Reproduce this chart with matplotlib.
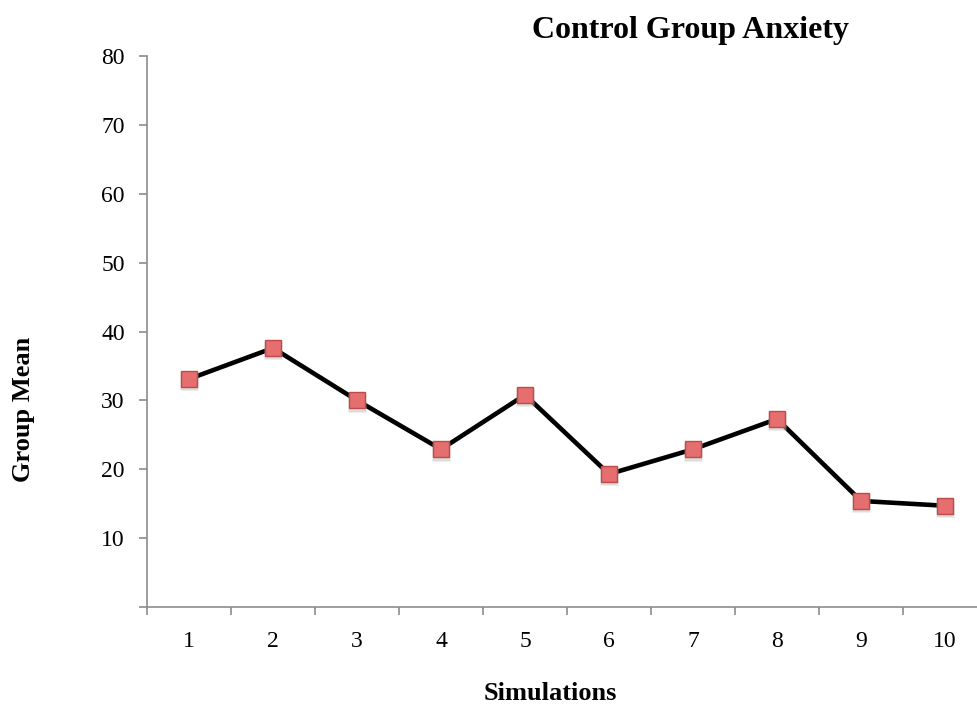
import matplotlib.pyplot as plt
from matplotlib.ticker import FixedLocator, NullFormatter

# data
simulations = [1, 2, 3, 4, 5, 6, 7, 8, 9, 10]
group_mean = [33.1, 37.6, 30.0, 22.9, 30.8, 19.3, 22.9, 27.3, 15.4, 14.7]
y_ticks = [10, 20, 30, 40, 50, 60, 70, 80]

fig = plt.figure(figsize=(9.78, 7.06), dpi=100)
ax = fig.add_axes([0.1503, 0.1402, 0.859, 0.7805])

ax.plot(simulations, group_mean, color='black', lw=3.3, zorder=2)
# faint shadow under the markers
ax.plot(simulations, [v - 0.35 for v in group_mean], ls='none', marker='s', ms=12.5,
        mfc='#bbbbbb', mec='none', alpha=0.5, zorder=2.5)
ax.plot(simulations, group_mean, ls='none', marker='s', ms=12,
        mfc='#e56f6f', mec='#bf4a4a', mew=1, zorder=3)

ax.set_xlim(0.5, 10.5)
ax.set_ylim(0, 80)

grey = '#8c8c8c'
for side in ['top', 'right']:
  ax.spines[side].set_visible(False)
for side in ['left', 'bottom']:
  ax.spines[side].set_color(grey)
  ax.spines[side].set_linewidth(1.2)

ax.set_yticks([0] + y_ticks)
ax.set_yticklabels([''] + [str(t) for t in y_ticks])
ax.set_xticks(simulations)
ax.set_xticklabels([str(s) for s in simulations])
ax.xaxis.set_minor_locator(FixedLocator([x + 0.5 for x in range(0, 11)]))
ax.xaxis.set_minor_formatter(NullFormatter())
ax.tick_params(axis='x', which='major', length=0, pad=17)
ax.tick_params(axis='x', which='minor', length=6, width=1.2, color=grey)
ax.tick_params(axis='y', length=6, width=1.2, color=grey, pad=10)
for lbl in ax.get_xticklabels() + ax.get_yticklabels():
  lbl.set_fontfamily('Liberation Serif')
  lbl.set_fontsize(17)

fig.text(0.706, 0.957, 'Control Group Anxiety', ha='center', va='center',
         fontfamily='Liberation Serif', fontweight='bold', fontsize=23)
fig.text(0.563, 0.018, 'Simulations', ha='center', va='center',
         fontfamily='Liberation Serif', fontweight='bold', fontsize=19)
fig.text(0.024, 0.42, 'Group Mean', ha='center', va='center', rotation=90,
         fontfamily='Liberation Serif', fontweight='bold', fontsize=19)

fig.savefig('out.png', dpi=100)
